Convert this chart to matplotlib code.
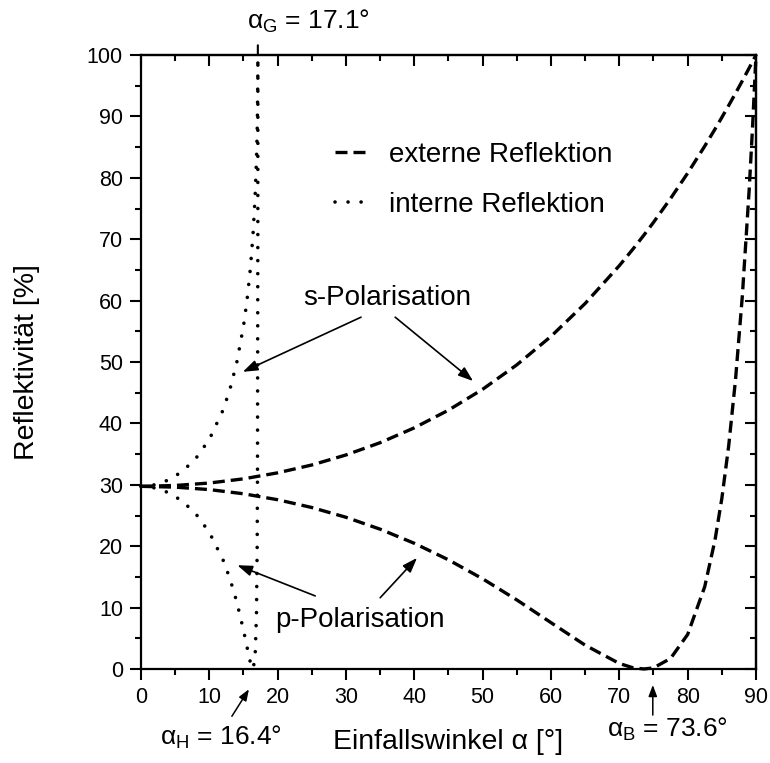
import matplotlib.pyplot as plt

plt.rcParams['font.family'] = ['Liberation Sans', 'DejaVu Sans']
plt.rcParams['mathtext.fontset'] = 'custom'
plt.rcParams['mathtext.rm'] = 'Liberation Sans'
plt.rcParams['mathtext.it'] = 'Liberation Sans:italic'

# externe Reflektion
winkel_ext = [0, 5, 10, 15, 20, 25, 30, 35, 40, 45, 50, 55, 60, 65, 70, 72,
              73.6, 75, 77.5, 80, 82.5, 84, 85, 86, 87, 88, 89, 89.5, 90]
rs_ext = [29.75, 29.89, 30.29, 30.97, 31.95, 33.23, 34.86, 36.86, 39.28, 42.16,
          45.56, 49.54, 54.17, 59.53, 65.69, 68.40, 70.67, 72.74, 76.63, 80.76,
          85.16, 87.93, 89.83, 91.77, 93.76, 95.79, 97.88, 98.93, 100]
rp_ext = [29.75, 29.62, 29.22, 28.54, 27.57, 26.30, 24.71, 22.77, 20.47, 17.78,
          14.69, 11.25, 7.55, 3.88, 0.90, 0.20, 0.00, 0.18, 1.72, 5.62,
          13.41, 20.99, 27.75, 36.29, 47.07, 60.71, 77.98, 88.32, 100]

# interne Reflektion
winkel_int = [0, 2, 4, 6, 8, 10, 12, 13, 14, 15, 15.5, 16, 16.4, 16.7, 16.9,
              17.0, 17.05, 17.1, 17.105]
rs_int = [29.75, 30.00, 30.77, 32.13, 34.25, 37.40, 42.15, 45.48, 49.83, 55.84,
          59.89, 65.14, 70.86, 76.94, 82.95, 87.47, 90.77, 97.23, 100]
rp_int = [29.75, 29.50, 28.74, 27.39, 25.31, 22.26, 17.79, 14.76, 11.00, 6.33,
          3.67, 1.10, 0.00, 1.92, 8.92, 19.55, 31.67, 72.24, 100]

alpha_G = 17.1
alpha_H = 16.4
alpha_B = 73.6

fig = plt.figure(figsize=(7.7, 7.63), dpi=100)
ax = fig.add_axes([0.1831, 0.1232, 0.7987, 0.8047])

dash = (0, (3.6, 1.8))
dot = (0, (0.01, 3.6))
l_ext, = ax.plot(winkel_ext, rs_ext, color='k', lw=2.4, linestyle=dash, clip_on=False)
ax.plot(winkel_ext, rp_ext, color='k', lw=2.4, linestyle=dash, clip_on=False)
l_int, = ax.plot(winkel_int, rs_int, color='k', lw=2.6, linestyle=dot,
                 dash_capstyle='round', clip_on=False)
ax.plot(winkel_int, rp_int, color='k', lw=2.6, linestyle=dot,
        dash_capstyle='round', clip_on=False)

ax.set_xlim(0, 90)
ax.set_ylim(0, 100)
ax.set_xticks(range(0, 91, 10))
ax.set_xticks(range(5, 90, 10), minor=True)
ax.set_yticks(range(0, 101, 10))
ax.set_yticks(range(5, 100, 10), minor=True)
for s in ax.spines.values():
    s.set_linewidth(1.6)
ax.tick_params(which='both', direction='out', width=1.5, labelsize=15.5, pad=5)
ax.tick_params(which='major', length=8)
ax.tick_params(which='minor', length=4.5)

# Ticks oben und rechts nach innen
secx = ax.secondary_xaxis('top')
secx.set_xticks(range(0, 91, 10))
secx.set_xticks(range(5, 90, 10), minor=True)
secx.tick_params(which='both', direction='in', labeltop=False, width=1.5)
secx.tick_params(which='major', length=8)
secx.tick_params(which='minor', length=4.5)
secx.spines['top'].set_linewidth(1.6)
secy = ax.secondary_yaxis('right')
secy.set_yticks(range(0, 101, 10))
secy.set_yticks(range(5, 100, 10), minor=True)
secy.tick_params(which='both', direction='in', labelright=False, width=1.5)
secy.tick_params(which='major', length=8)
secy.tick_params(which='minor', length=4.5)
secy.spines['right'].set_linewidth(1.6)

ax.set_xlabel('Einfallswinkel α [°]', fontsize=20.5, labelpad=15)
ax.set_ylabel('Reflektivität [%]', fontsize=20.5, labelpad=34)

ax.legend([l_ext, l_int], ['externe Reflektion', 'interne Reflektion'],
          loc='upper left', bbox_to_anchor=(0.315, 0.858), frameon=False,
          fontsize=20, handlelength=1.3, handletextpad=0.65, labelspacing=0.84,
          borderpad=0, borderaxespad=0)

# s/p Beschriftungen mit Pfeilen
big = dict(arrowstyle='-|>,head_length=0.45,head_width=0.16', color='k', lw=1.2,
           shrinkA=0, shrinkB=0, mutation_scale=20)
ax.text(23.7, 59.3, 's-Polarisation', fontsize=20, ha='left', va='baseline')
ax.annotate('', xy=(14.9, 48.4), xytext=(32.2, 57.3), arrowprops=big)
ax.annotate('', xy=(48.6, 46.9), xytext=(37.2, 57.3), arrowprops=big)
ax.text(19.6, 6.8, 'p-Polarisation', fontsize=20, ha='left', va='baseline')
ax.annotate('', xy=(14.1, 16.9), xytext=(25.5, 11.9), arrowprops=big)
ax.annotate('', xy=(40.4, 18.1), xytext=(35.0, 11.6), arrowprops=big)

# Winkelmarken
small = dict(arrowstyle='-|>,head_length=0.45,head_width=0.17', color='k', lw=1.1,
             shrinkA=0, shrinkB=0, mutation_scale=15)
mix = ('data', 'axes fraction')
ax.annotate('', xy=(alpha_G, 1.0), xycoords=mix, xytext=(0, 7),
            textcoords='offset points',
            arrowprops=dict(arrowstyle='-', lw=1.5, shrinkA=0, shrinkB=0))
ax.annotate(r'$\mathrm{α}_\mathrm{G}$ = %.1f°' % alpha_G, xy=(alpha_G, 1.0),
            xycoords=mix, xytext=(-8, 19), textcoords='offset points',
            fontsize=19, ha='left', va='baseline')
ax.annotate('', xy=(alpha_H - 0.6, -0.033), xycoords=mix,
            xytext=(13.3, -0.077), textcoords=mix, arrowprops=small)
ax.text(2.8, -0.124, r'$\mathrm{α}_\mathrm{H}$ = %.1f°' % alpha_H,
        transform=ax.get_xaxis_transform(), fontsize=19, ha='left', va='baseline')
ax.annotate('', xy=(alpha_B + 1.3, -0.026), xycoords=mix,
            xytext=(alpha_B + 1.3, -0.075), textcoords=mix, arrowprops=small)
ax.text(68.2, -0.111, r'$\mathrm{α}_\mathrm{B}$ = %.1f°' % alpha_B,
        transform=ax.get_xaxis_transform(), fontsize=19, ha='left', va='baseline')

fig.savefig('out.png', dpi=100)
